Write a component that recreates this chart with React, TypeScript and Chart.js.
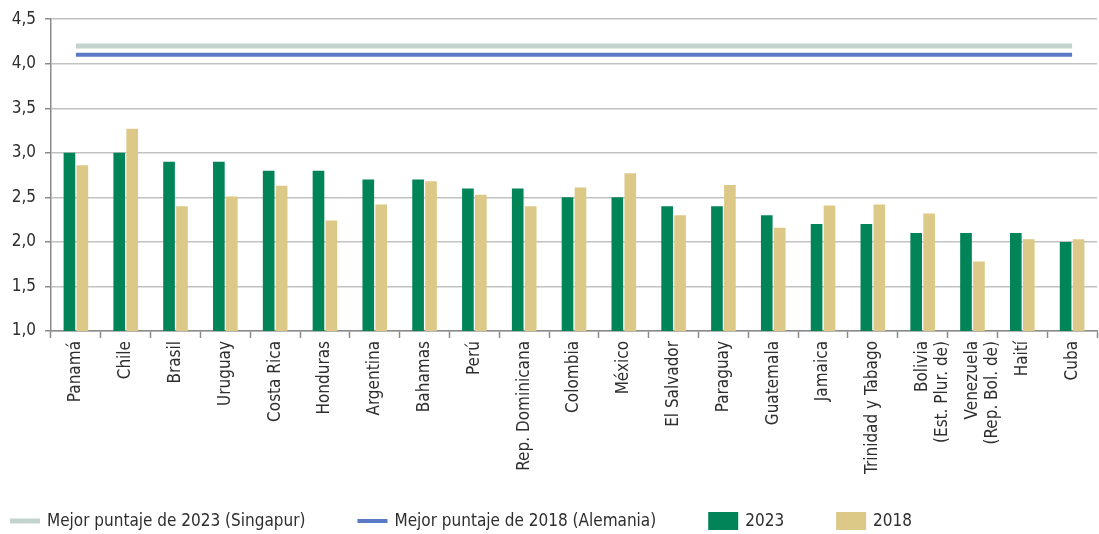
import React, { useEffect, useRef } from "react";
import { Chart, registerables } from "chart.js";

Chart.register(...registerables);

const COUNTRIES: (string | string[])[] = [
  "Panamá", "Chile", "Brasil", "Uruguay", "Costa Rica", "Honduras", "Argentina",
  "Bahamas", "Perú", "Rep. Dominicana", "Colombia", "México", "El Salvador",
  "Paraguay", "Guatemala", "Jamaica", "Trinidad y Tabago",
  ["Bolivia", "(Est. Plur. de)"], ["Venezuela", "(Rep. Bol. de)"], "Haití", "Cuba",
];

const SCORES_2023 = [3.0, 3.0, 2.9, 2.9, 2.8, 2.8, 2.7, 2.7, 2.6, 2.6, 2.5, 2.5, 2.4, 2.4, 2.3, 2.2, 2.2, 2.1, 2.1, 2.1, 2.0];
const SCORES_2018 = [2.86, 3.27, 2.40, 2.51, 2.63, 2.24, 2.42, 2.68, 2.53, 2.40, 2.61, 2.77, 2.30, 2.64, 2.16, 2.41, 2.42, 2.32, 1.78, 2.03, 2.03];
const BEST_2023_SINGAPUR = [4.2, 4.2, 4.2, 4.2, 4.2, 4.2, 4.2, 4.2, 4.2, 4.2, 4.2, 4.2, 4.2, 4.2, 4.2, 4.2, 4.2, 4.2, 4.2, 4.2, 4.2];
const BEST_2018_ALEMANIA = [4.1, 4.1, 4.1, 4.1, 4.1, 4.1, 4.1, 4.1, 4.1, 4.1, 4.1, 4.1, 4.1, 4.1, 4.1, 4.1, 4.1, 4.1, 4.1, 4.1, 4.1];

const Y_MIN = 1.0;
const Y_MAX = 4.5;
const Y_STEP = 0.5;

const FONT = "'DejaVu Sans Condensed', 'Liberation Sans Narrow', sans-serif";
const TEXT = "#2e2e2e";
const FONT_SIZE = 17;

const legendPlugin = {
  id: "bottomLegend",
  afterDraw(chart: any) {
    const ctx = chart.ctx as CanvasRenderingContext2D;
    ctx.save();
    ctx.font = `${FONT_SIZE}px ${FONT}`;
    ctx.textBaseline = "middle";
    ctx.textAlign = "left";
    const y = chart.height - 13;
    let x = 10;
    chart.data.datasets.forEach((ds: any) => {
      if (ds.type === "line") {
        ctx.strokeStyle = ds.borderColor;
        ctx.lineWidth = ds.borderWidth;
        ctx.beginPath();
        ctx.moveTo(x, y);
        ctx.lineTo(x + 30, y);
        ctx.stroke();
      } else {
        ctx.fillStyle = ds.backgroundColor;
        ctx.fillRect(x, y - 9, 30, 18);
      }
      x += 37;
      ctx.fillStyle = TEXT;
      ctx.fillText(ds.label, x, y + 1);
      x += ctx.measureText(ds.label).width + 52;
    });
    ctx.restore();
  },
};

export default function App() {
  const canvasRef = useRef<HTMLCanvasElement | null>(null);

  useEffect(() => {
    const canvas = canvasRef.current;
    if (!canvas) return;
    const chart = new Chart(canvas, {
      data: {
        labels: COUNTRIES,
        datasets: [
          {
            type: "line",
            label: "Mejor puntaje de 2023 (Singapur)",
            data: BEST_2023_SINGAPUR,
            borderColor: "#c3d4cf",
            backgroundColor: "#c3d4cf",
            borderWidth: 5,
            pointRadius: 0,
            borderCapStyle: "butt",
          },
          {
            type: "line",
            label: "Mejor puntaje de 2018 (Alemania)",
            data: BEST_2018_ALEMANIA,
            borderColor: "#5b79c4",
            backgroundColor: "#5b79c4",
            borderWidth: 4,
            pointRadius: 0,
            borderCapStyle: "butt",
          },
          {
            type: "bar",
            label: "2023",
            data: SCORES_2023,
            backgroundColor: "#008458",
            borderWidth: 0,
            barPercentage: 0.9,
            categoryPercentage: 0.52,
          },
          {
            type: "bar",
            label: "2018",
            data: SCORES_2018,
            backgroundColor: "#dcc887",
            borderWidth: 0,
            barPercentage: 0.9,
            categoryPercentage: 0.52,
          },
        ],
      },
      plugins: [legendPlugin],
      options: {
        responsive: false,
        animation: false,
        maintainAspectRatio: false,
        layout: { padding: { top: 16, right: 2, left: 0, bottom: 40 } },
        plugins: {
          tooltip: { enabled: false },
          legend: { display: false },
        },
        scales: {
          x: {
            grid: {
              offset: true,
              drawOnChartArea: false,
              drawTicks: true,
              tickLength: 7,
              tickColor: "#8a8a8a",
              tickWidth: 1.5,
            },
            border: { display: true, color: "#8a8a8a", width: 1.5 },
            ticks: {
              minRotation: 90,
              maxRotation: 90,
              autoSkip: false,
              padding: 3,
              color: TEXT,
              font: { family: FONT, size: FONT_SIZE },
            },
            afterFit: (scale: any) => {
              scale.height = 163;
            },
          },
          y: {
            min: Y_MIN,
            max: Y_MAX,
            ticks: {
              stepSize: Y_STEP,
              padding: 9,
              color: TEXT,
              font: { family: FONT, size: FONT_SIZE },
              callback: (v: any) => Number(v).toFixed(1).replace(".", ","),
            },
            grid: {
              color: "#c2c2c2",
              lineWidth: 1.5,
              tickLength: 6,
              tickColor: "#8a8a8a",
            },
            border: { display: true, color: "#8a8a8a", width: 1.5 },
            afterFit: (scale: any) => {
              scale.width = 51;
            },
          },
        },
      },
    });
    return () => chart.destroy();
  }, []);

  return (
    <div style={{ position: "fixed", left: 0, top: 0, width: 1099, height: 534, background: "#fff" }}>
      <canvas ref={canvasRef} width={1099} height={534} style={{ width: 1099, height: 534 }} />
    </div>
  );
}
